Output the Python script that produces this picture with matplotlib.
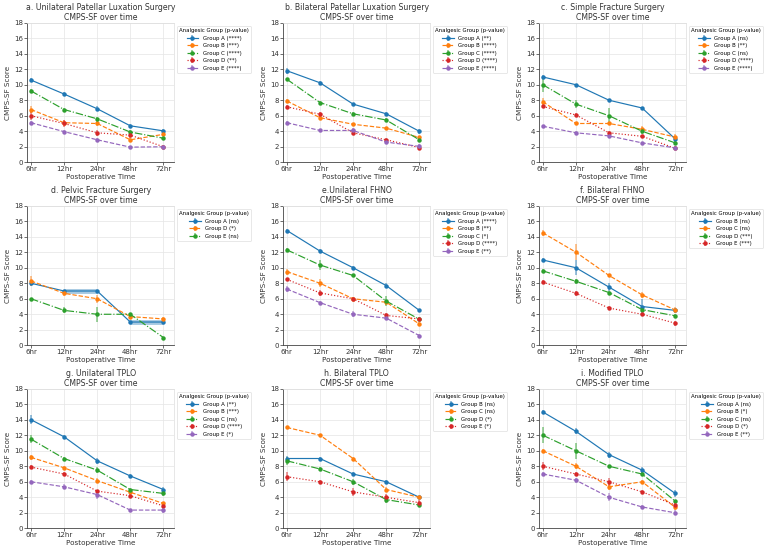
import numpy as np
import matplotlib
matplotlib.use("Agg")
import matplotlib.pyplot as plt
from matplotlib.colors import to_rgba

times = ["6hr", "12hr", "24hr", "48hr", "72hr"]

titles = ["a. Unilateral Patellar Luxation Surgery", "b. Bilateral Patellar Luxation Surgery",
          "c. Simple Fracture Surgery", "d. Pelvic Fracture Surgery", "e.Unilateral FHNO",
          "f. Bilateral FHNO", "g. Unilateral TPLO", "h. Bilateral TPLO", "i. Modified TPLO"]

# group labels (with p-value) per panel
labels_a = ["Group A (****)", "Group B (***)", "Group C (****)", "Group D (**)", "Group E (****)"]
labels_b = ["Group A (**)", "Group B (****)", "Group C (****)", "Group D (****)", "Group E (****)"]
labels_c = ["Group A (ns)", "Group B (**)", "Group C (ns)", "Group D (****)", "Group E (****)"]
labels_d = ["Group A (ns)", "Group D (*)", "Group E (ns)"]
labels_e = ["Group A (****)", "Group B (**)", "Group C (*)", "Group D (****)", "Group E (**)"]
labels_f = ["Group B (ns)", "Group C (ns)", "Group D (***)", "Group E (***)"]
labels_g = ["Group A (**)", "Group B (***)", "Group C (ns)", "Group D (****)", "Group E (*)"]
labels_h = ["Group B (ns)", "Group C (ns)", "Group D (*)", "Group E (*)"]
labels_i = ["Group A (ns)", "Group B (*)", "Group C (ns)", "Group D (*)", "Group E (**)"]

# mean CMPS-SF scores
means_a = [[10.6, 8.8, 6.9, 4.7, 4.05], [6.8, 5.1, 5.0, 2.9, 3.6], [9.2, 6.8, 5.6, 3.9, 3.1],
           [6.0, 5.0, 3.8, 3.5, 2.0], [5.1, 3.95, 2.9, 1.95, 2.0]]
means_b = [[11.8, 10.25, 7.5, 6.25, 4.0], [7.9, 5.75, 4.9, 4.4, 3.2], [10.7, 7.7, 6.25, 5.45, 2.9],
           [7.15, 6.2, 3.8, 2.9, 1.9], [5.1, 4.1, 4.1, 2.6, 2.05]]
means_c = [[11.0, 10.0, 8.0, 7.0, 3.0], [7.8, 5.0, 5.0, 4.25, 3.25], [10.0, 7.5, 6.0, 4.0, 2.5],
           [7.2, 6.1, 3.8, 3.35, 1.8], [4.65, 3.8, 3.4, 2.5, 1.85]]
means_d = [[8.0, 7.0, 7.0, 3.0, 3.0], [8.3, 6.7, 6.0, 3.7, 3.4], [6.0, 4.5, 4.0, 4.0, 1.0]]
means_e = [[14.8, 12.15, 10.0, 7.7, 4.5], [9.5, 8.0, 6.0, 5.55, 2.75], [12.3, 10.35, 9.0, 5.7, 3.35],
           [8.5, 6.75, 6.0, 3.85, 3.4], [7.25, 5.5, 4.0, 3.5, 1.25]]
means_f = [[11.0, 10.0, 7.5, 5.0, 4.5], [14.5, 12.0, 9.0, 6.5, 4.55], [9.6, 8.25, 6.8, 4.6, 3.8],
           [8.15, 6.7, 4.8, 4.0, 2.85]]
means_g = [[14.0, 11.8, 8.7, 6.75, 5.0], [9.15, 7.8, 6.15, 4.65, 3.2], [11.5, 9.0, 7.5, 5.0, 4.5],
           [7.9, 7.0, 4.8, 4.2, 2.9], [6.0, 5.35, 4.35, 2.35, 2.35]]
means_h = [[9.0, 9.0, 7.0, 6.0, 4.0], [13.0, 12.0, 9.0, 5.0, 4.0], [8.7, 7.65, 6.0, 3.7, 3.0],
           [6.65, 6.0, 4.7, 4.0, 3.3]]
means_i = [[15.0, 12.5, 9.5, 7.5, 4.5], [10.0, 8.0, 5.35, 6.0, 2.7], [12.0, 10.0, 8.0, 7.0, 3.5],
           [8.0, 7.0, 6.0, 4.7, 3.0], [7.0, 6.2, 4.0, 2.75, 2.0]]

# error bar half-widths
errs_a = [[0.3, 0.3, 0.3, 0.2, 0.2], [0.4, 0.3, 0.3, 0.3, 0.2], [0.2, 0.2, 0.2, 0.2, 0.2],
          [0.5, 0.5, 0.4, 0.3, 0.1], [0.2, 0.2, 0.2, 0.1, 0.2]]
errs_b = [[0.4, 0.2, 0.2, 0.2, 0.3], [0.3, 0.3, 0.2, 0.2, 0.2], [0.2, 0.2, 0.2, 0.2, 0.2],
          [0.2, 0.3, 0.2, 0.2, 0.2], [0.2, 0.2, 0.3, 0.2, 0.3]]
errs_c = [[0.2, 0.1, 0.1, 0.1, 0.4], [0.5, 0.2, 0.2, 0.4, 0.4], [1.0, 0.5, 1.0, 0.3, 0.2],
          [0.2, 0.2, 0.2, 0.2, 0.2], [0.2, 0.2, 0.2, 0.1, 0.2]]
errs_d = [[0.3, 0.1, 0.1, 0.1, 0.1], [0.6, 0.3, 0.5, 0.3, 0.3], [0.1, 0.4, 1.0, 0.2, 0.1]]
errs_e = [[0.2, 0.3, 0.2, 0.3, 0.2], [0.4, 0.5, 0.2, 0.3, 0.3], [0.3, 0.6, 0.2, 0.6, 0.2],
          [0.2, 0.4, 0.2, 0.3, 0.3], [0.4, 0.2, 0.4, 0.2, 0.2]]
errs_f = [[0.2, 1.0, 0.5, 1.0, 0.2], [0.4, 1.0, 0.2, 0.4, 0.4], [0.3, 0.3, 0.2, 0.2, 0.2],
          [0.3, 0.3, 0.3, 0.2, 0.3]]
errs_g = [[0.6, 0.2, 0.4, 0.2, 0.3], [0.3, 0.2, 0.3, 0.2, 0.2], [0.5, 0.2, 0.4, 0.2, 0.3],
          [0.2, 0.2, 0.2, 0.2, 0.2], [0.2, 0.3, 0.6, 0.2, 0.4]]
errs_h = [[0.3, 0.2, 0.2, 0.2, 0.2], [0.2, 0.2, 0.2, 0.3, 0.2], [0.5, 0.3, 0.4, 0.5, 0.3],
          [0.6, 0.2, 0.5, 0.4, 0.3]]
errs_i = [[0.2, 0.4, 0.4, 0.4, 0.4], [0.2, 0.4, 0.4, 0.2, 0.3], [1.0, 1.0, 0.2, 0.2, 0.2],
          [0.5, 0.3, 0.5, 0.3, 0.3], [0.3, 0.3, 0.5, 0.2, 0.3]]

# thick band segments on Group A of panel d (index pairs of time points)
band_d = [(1, 2), (3, 4)]

all_labels = [labels_a, labels_b, labels_c, labels_d, labels_e, labels_f, labels_g, labels_h, labels_i]
all_means = [means_a, means_b, means_c, means_d, means_e, means_f, means_g, means_h, means_i]
all_errs = [errs_a, errs_b, errs_c, errs_d, errs_e, errs_f, errs_g, errs_h, errs_i]

colors = ["#1f77b4", "#ff7f0e", "#2ca02c", "#d62728", "#9467bd"]
styles = ["-", "--", "-.", ":", "--"]

fig, axes = plt.subplots(3, 3, figsize=(7.68, 5.49), dpi=100)
plt.subplots_adjust(left=0.0356, right=0.893, top=0.9587, bottom=0.0377, wspace=0.745, hspace=0.311)

x = np.arange(len(times))
for k, ax in enumerate(axes.flat):
    for j, lab in enumerate(all_labels[k]):
        m = np.array(all_means[k][j])
        e = np.array(all_errs[k][j])
        ax.errorbar(x, m, yerr=e, color=colors[j], ls=styles[j], lw=0.85, marker="o",
                    ms=2.2, elinewidth=1.3, ecolor=to_rgba(colors[j], 0.5), label=lab)
        if k == 3 and j == 0:
            for p, q in band_d:
                ax.plot(x[[p, q]], m[[p, q]], color=colors[j], lw=3.5, alpha=0.4, solid_capstyle="butt")
    ax.set_title(titles[k] + "\nCMPS-SF over time", fontsize=5.6, color="#333333", pad=2, linespacing=1.1)
    ax.set_ylim(0, 18)
    ax.set_yticks(range(0, 19, 2))
    ax.set_xlim(-0.11, 4.32)
    ax.set_xticks(x)
    ax.set_xticklabels(times)
    ax.tick_params(labelsize=5, length=2, width=0.5, pad=1, colors="#333333")
    ax.set_xlabel("Postoperative Time", fontsize=5.2, labelpad=1, color="#333333")
    ax.set_ylabel("CMPS-SF Score", fontsize=5.2, labelpad=2, color="#333333")
    ax.grid(True, color="#e5e5e5", lw=0.5)
    for s in ["top", "right"]:
        ax.spines[s].set_color("#dddddd")
        ax.spines[s].set_linewidth(0.5)
    for s in ["left", "bottom"]:
        ax.spines[s].set_color("#444444")
        ax.spines[s].set_linewidth(0.6)
    leg = ax.legend(title="Analgesic Group (p-value)", loc="upper left", bbox_to_anchor=(1.02, 0.975),
                    fontsize=3.9, title_fontsize=3.9, frameon=True, borderaxespad=0,
                    handlelength=2.2, labelspacing=0.45, borderpad=0.4)
    leg.get_frame().set_linewidth(0.4)
    leg.get_frame().set_edgecolor("#cccccc")

fig.savefig("out.png", dpi=100)
